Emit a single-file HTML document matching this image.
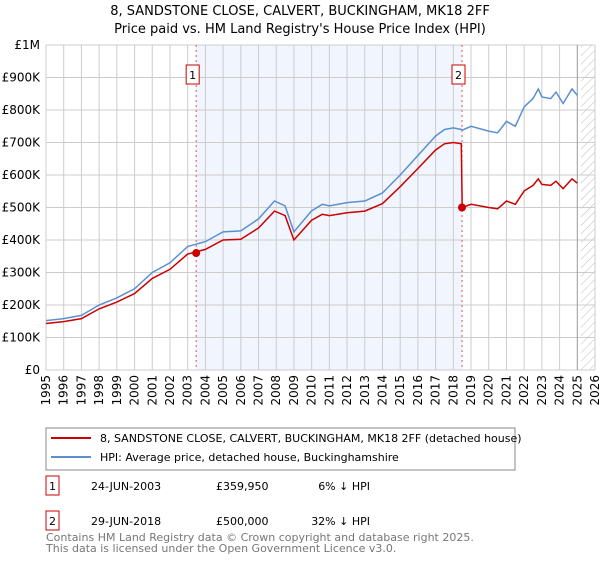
<!DOCTYPE html>
<html><head><meta charset="utf-8"><style>
body{margin:0;background:#fff;font-family:"Liberation Sans","DejaVu Sans",sans-serif;}
svg text{font-family:"DejaVu Sans","Liberation Sans",sans-serif;}
</style></head><body>
<svg id="c" width="600" height="560" xmlns="http://www.w3.org/2000/svg">
<defs><pattern id="hatch" width="6" height="6" patternUnits="userSpaceOnUse" patternTransform="rotate(45)"><line x1="0" y1="0" x2="0" y2="6" stroke="#bbb" stroke-width="1"/></pattern></defs>
<text x="300" y="15" text-anchor="middle" font-size="13">8, SANDSTONE CLOSE, CALVERT, BUCKINGHAM, MK18 2FF</text>
<text x="300" y="33" text-anchor="middle" font-size="13">Price paid vs. HM Land Registry's House Price Index (HPI)</text>
<g id="plot"></g>
<rect x="46" y="428" width="469" height="42" fill="#fff" stroke="#888"/>
<line x1="51" y1="438" x2="91" y2="438" stroke="#cc0000" stroke-width="2"/>
<text x="100" y="442" font-size="11">8, SANDSTONE CLOSE, CALVERT, BUCKINGHAM, MK18 2FF (detached house)</text>
<line x1="51" y1="457" x2="91" y2="457" stroke="#5b8fd0" stroke-width="2"/>
<text x="100" y="461" font-size="11">HPI: Average price, detached house, Buckinghamshire</text>
<rect x="46" y="476" width="13" height="19" fill="#fff" stroke="#cc0000"/>
<text x="52.5" y="490" font-size="11" text-anchor="middle">1</text>
<text x="91" y="490" font-size="11">24-JUN-2003</text>
<text x="216" y="490" font-size="11">£359,950</text>
<text x="370" y="490" font-size="11" text-anchor="end">6% ↓ HPI</text>
<rect x="46" y="511" width="13" height="19" fill="#fff" stroke="#cc0000"/>
<text x="52.5" y="525" font-size="11" text-anchor="middle">2</text>
<text x="91" y="525" font-size="11">29-JUN-2018</text>
<text x="216" y="525" font-size="11">£500,000</text>
<text x="370" y="525" font-size="11" text-anchor="end">32% ↓ HPI</text>
<text x="46" y="541" font-size="11" fill="#777">Contains HM Land Registry data © Crown copyright and database right 2025.</text>
<text x="46" y="552" font-size="11" fill="#777">This data is licensed under the Open Government Licence v3.0.</text>
</svg>
<script>
const times=[1995,1996,1997,1998,1999,2000,2001,2002,2003,2004,2005,2006,2007,2007.9,2008.5,2009,2010,2010.6,2011,2012,2013,2014,2015,2016,2017,2017.5,2018,2018.45,2018.5,2019,2020,2020.5,2021,2021.5,2022,2022.5,2022.8,2023,2023.5,2023.8,2024.2,2024.7,2025.0];
const hpiValues=[152,158,168,200,222,250,300,330,380,395,425,428,465,520,505,425,490,510,505,515,520,545,600,660,720,740,745,740,738,750,735,730,765,750,810,835,865,840,835,855,820,865,845];
const propertyValues=[143,149,158,188,209,235,282,310,357,371,400,402,437,489,475,400,461,479,475,484,489,512,564,620,677,696,700,696,500,510,500,496,520,510,551,568,588,571,568,581,558,588,575];
const saleTimes=[2003.48,2018.49];
const saleValues=[359.95,500];
const saleLabels=["1","2"];
const yTicks=[0,100,200,300,400,500,600,700,800,900,1000];
const yTickLabels=["£0","£100K","£200K","£300K","£400K","£500K","£600K","£700K","£800K","£900K","£1M"];
const xYears=[1995,1996,1997,1998,1999,2000,2001,2002,2003,2004,2005,2006,2007,2008,2009,2010,2011,2012,2013,2014,2015,2016,2017,2018,2019,2020,2021,2022,2023,2024,2025,2026];
const X0=46,X1=595,Y0=370,Y1=45;
const xs=t=>X0+(t-1995)/(2026-1995)*(X1-X0);
const ys=v=>Y0-v/1000*(Y0-Y1);
const NS="http://www.w3.org/2000/svg";
const g=document.getElementById('plot');
function mk(tag,attrs){const e=document.createElementNS(NS,tag);for(const k in attrs)e.setAttribute(k,attrs[k]);g.appendChild(e);return e;}
let e;
e=mk('rect',{x:X0,y:Y1,width:X1-X0,height:Y0-Y1,fill:'#fff'});


e=mk('rect',{x:xs(saleTimes[0]),y:Y1,width:xs(saleTimes[1])-xs(saleTimes[0]),height:Y0-Y1,fill:'#eef3fc',opacity:0.8});


e=mk('rect',{x:xs(2025.2),y:Y1,width:X1-xs(2025.2),height:Y0-Y1,fill:'url(#hatch)'});


yTicks.forEach((v,i)=>{
 e=mk('line',{x1:X0,x2:X1,y1:ys(v),y2:ys(v),stroke:'#ccc'});
 
 
 e=mk('text',{x:X0-6,y:ys(v)+4,'text-anchor':'end','font-size':12});
 e.textContent=yTickLabels[i];
 
 
});
xYears.forEach(yr=>{
 e=mk('line',{x1:xs(yr),x2:xs(yr),y1:Y1,y2:Y0,stroke:yr===2025?'#999':'#ccc'});
 
 
 e=mk('text',{x:xs(yr)+4,y:375,'text-anchor':'end','font-size':12,transform:`rotate(-90 ${xs(yr)+4} 375)`});
 e.textContent=yr;
 
 
});
saleTimes.forEach((t,i)=>{
 e=mk('line',{x1:xs(t),x2:xs(t),y1:Y1,y2:Y0,stroke:'#e05555','stroke-dasharray':'2,3'});
 
 
 e=mk('rect',{x:xs(t)-10,y:65,width:13,height:19,fill:'#fff',stroke:'#cc0000'});
 
 
 e=mk('text',{x:xs(t)-3.5,y:79,'text-anchor':'middle','font-size':11});
 e.textContent=saleLabels[i];
 
 
});
const pts=a=>a.map((v,i)=>xs(times[i]).toFixed(1)+','+ys(v).toFixed(1)).join(' ');
e=mk('polyline',{points:pts(hpiValues),fill:'none',stroke:'#5b8fd0','stroke-width':1.5});


e=mk('polyline',{points:pts(propertyValues),fill:'none',stroke:'#cc0000','stroke-width':1.5});


saleTimes.forEach((t,i)=>{
 e=mk('circle',{cx:xs(t),cy:ys(saleValues[i]),r:4,fill:'#cc0000'});
 
 
});
</script>
</body></html>
